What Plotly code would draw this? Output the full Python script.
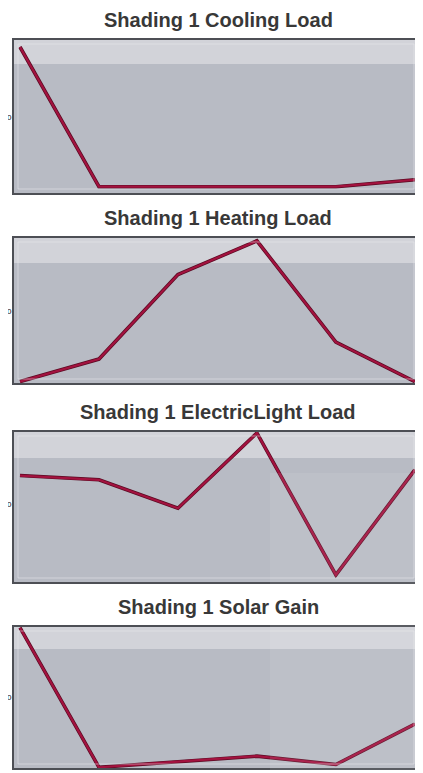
import plotly.graph_objects as go
from plotly.subplots import make_subplots

# ---- data (normalised) ----
titles = ["Shading 1 Cooling Load", "Shading 1 Heating Load",
          "Shading 1 ElectricLight Load", "Shading 1 Solar Gain"]
x_steps = [0, 1, 2, 3, 4, 5]
cooling_load = [1.0, 0.0, 0.0, 0.0, 0.0, 0.05]
heating_load = [0.0, 0.16, 0.76, 1.0, 0.28, 0.0]
electric_light_load = [0.70, 0.67, 0.47, 1.0, 0.0, 0.74]
solar_gain = [1.0, 0.0, 0.04, 0.08, 0.02, 0.31]
series = [cooling_load, heating_load, electric_light_load, solar_gain]
y_tick_text = ["0", "0", "0", "0"]

OFF = 8  # browser default body margin
PW, PH = 423, 773
W, H = PW - OFF, PH - OFF
L, R = 14 - OFF, PW - 418
# panel frames in page pixels (top, bottom)
frames = [(40, 193), (238, 383), (432, 582), (627, 768)]
y_ranges = [(-0.045, 1.05), (-0.01, 1.02), (-0.05, 1.007), (-0.005, 1.005)]
title_y = [20, 218, 412, 607]
band_h = [24, 25, 26, 22]

fig = make_subplots(rows=4, cols=1)

LINE = "#a3123f"
FRAME = "#4d4f55"
BG = "#b8bbc4"
PWIDTH = W - L - R


def py(page_y):
    return 1 - (page_y - OFF) / H


def px(page_x):
    return (page_x - OFF - L) / PWIDTH


for i, vals in enumerate(series):
    r = i + 1
    fig.add_trace(go.Scatter(x=x_steps, y=vals, mode="lines",
                             line=dict(color="#5a0a22", width=3.6),
                             hoverinfo="skip", showlegend=False), row=r, col=1)
    fig.add_trace(go.Scatter(x=x_steps, y=vals, mode="lines",
                             line=dict(color=LINE, width=2.2),
                             showlegend=False), row=r, col=1)
    top, bot = frames[i]
    ax = "" if r == 1 else str(r)
    fig.layout["yaxis" + ax].update(
        domain=[py(bot), py(top)], range=list(y_ranges[i]), tickvals=[0.5],
        ticktext=[y_tick_text[i]], automargin=False, ticklabelstandoff=-1,
        ticks="", showgrid=False, zeroline=False, showline=True, mirror=True,
        linecolor=FRAME, linewidth=2,
        tickfont=dict(family="Liberation Sans", size=8, color="#111"))
    fig.layout["xaxis" + ax].update(
        range=[-0.076, 5.04], showticklabels=False, ticks="", showgrid=False,
        zeroline=False, showline=True, mirror=True, linecolor=FRAME, linewidth=2,
        automargin=False)
    # title
    fig.add_annotation(text=titles[i], xref="paper", yref="paper",
                       x=px(218), y=py(title_y[i]),
                       xanchor="center", yanchor="middle", showarrow=False,
                       font=dict(family="Liberation Sans", size=20, color="#383838",
                                 weight="bold"))
    # lighter top band of the plot area (styling)
    fig.add_shape(type="rect", xref="paper", yref="paper", layer="below",
                  x0=0, x1=1, y0=py(top + band_h[i]), y1=py(top),
                  fillcolor="#d2d3d9", line=dict(width=0))
    # inner light frame line
    fig.add_shape(type="rect", xref="paper", yref="paper", layer="above",
                  x0=4 / PWIDTH, x1=1 - 4 / PWIDTH,
                  y0=py(bot - 4), y1=py(top + 4),
                  fillcolor="rgba(0,0,0,0)", line=dict(width=1, color="rgba(235,236,240,0.5)"))

# faint light overlay at lower right (as in picture)
fig.add_shape(type="rect", xref="paper", yref="paper", layer="above",
              x0=px(270), x1=1.02, y0=py(773), y1=py(473),
              fillcolor="rgba(255,255,255,0.08)", line=dict(width=0))

fig.update_layout(width=W, height=H, margin=dict(l=L, r=R, t=0, b=0),
                  paper_bgcolor="white", plot_bgcolor=BG)

fig.write_html("out.html")
